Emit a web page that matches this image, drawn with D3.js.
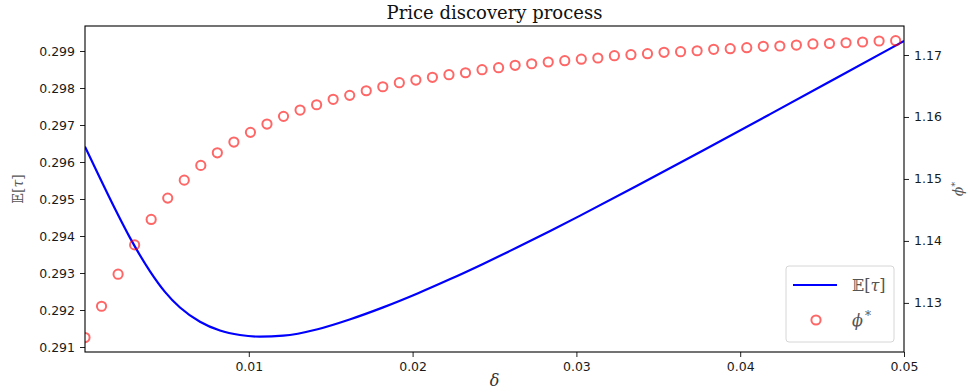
<!DOCTYPE html>
<html>
<head>
<meta charset="utf-8">
<script src="https://cdn.jsdelivr.net/npm/d3@7"></script>
<style>
body { margin: 0; background: #fff; }
text { font-family: "DejaVu Sans", sans-serif; }
</style>
</head>
<body>
<svg width="968" height="392"></svg>
<script>
// E[tau] curve
var deltaLine = [0, 0.00092, 0.00183, 0.00275, 0.00397, 0.00488, 0.0058, 0.00702, 0.00824, 0.00946,
    0.01068, 0.0121, 0.0142, 0.0162, 0.0182, 0.0203, 0.0223, 0.0243, 0.0264, 0.0284,
    0.0302, 0.0337, 0.0377, 0.0418, 0.0459, 0.05];
var tauLine = [0.296416, 0.29556, 0.294736, 0.293949, 0.293046, 0.292491, 0.292068, 0.291684, 0.291446, 0.291324,
    0.29128, 0.291305, 0.291481, 0.291751, 0.292071, 0.292447, 0.292835, 0.293245, 0.293694, 0.294136,
    0.294544, 0.295356, 0.296304, 0.297288, 0.298278, 0.29927];

// phi* markers
var deltaDots = [0, 0.00101, 0.00202, 0.00303, 0.00404, 0.00505, 0.00606, 0.00707, 0.00808, 0.00909,
    0.0101, 0.01111, 0.01212, 0.01313, 0.01414, 0.01515, 0.01616, 0.01717, 0.01818, 0.01919,
    0.0202, 0.02121, 0.02222, 0.02323, 0.02424, 0.02525, 0.02626, 0.02727, 0.02828, 0.02929,
    0.0303, 0.03131, 0.03232, 0.03333, 0.03434, 0.03535, 0.03636, 0.03737, 0.03838, 0.03939,
    0.0404, 0.04141, 0.04242, 0.04343, 0.04444, 0.04545, 0.04646, 0.04747, 0.04848, 0.04949];
var phiDots = [1.12441, 1.12946, 1.13463, 1.13936, 1.14347, 1.14691, 1.14981, 1.15219, 1.15422, 1.15595,
    1.15752, 1.15886, 1.1601, 1.16112, 1.16197, 1.16285, 1.16349, 1.16423, 1.16488, 1.16553,
    1.16596, 1.1664, 1.16682, 1.16714, 1.16763, 1.16795, 1.16834, 1.16859, 1.16887, 1.16908,
    1.16932, 1.16952, 1.16989, 1.17005, 1.17021, 1.17044, 1.17053, 1.17069, 1.17092, 1.17102,
    1.17118, 1.1714, 1.17145, 1.17161, 1.17178, 1.17186, 1.17198, 1.1721, 1.17226, 1.17231];

var xTicks = [0.01, 0.02, 0.03, 0.04, 0.05];
var leftTicks = [0.291, 0.292, 0.293, 0.294, 0.295, 0.296, 0.297, 0.298, 0.299];
var rightTicks = [1.13, 1.14, 1.15, 1.16, 1.17];

var marge = { top: 26, bottom: 40, left: 85, right: 64 };
var svg = d3.select("svg");
var width = +svg.attr("width") - marge.left - marge.right;
var height = +svg.attr("height") - marge.top - marge.bottom;
var g = svg.append("g").attr("transform", "translate(" + marge.left + "," + marge.top + ")");

var x = d3.scaleLinear().domain([0, 0.05]).range([0, width]);
var yL = d3.scaleLinear().domain([0.290865, 0.299676]).range([height, 0]);
var yR = d3.scaleLinear().domain([1.12208, 1.17468]).range([height, 0]);

svg.append("defs").append("clipPath").attr("id", "clip")
    .append("rect").attr("width", width).attr("height", height);

// axes
function styleAxis(sel) {
    sel.select(".domain").remove();
    sel.selectAll("text").style("font-size", "12.5px").attr("fill", "#1a1a1a");
    sel.selectAll("line").attr("stroke", "#222");
}

g.append("g")
    .attr("transform", "translate(0," + height + ")")
    .call(d3.axisBottom(x).tickValues(xTicks).tickSize(5).tickPadding(5).tickFormat(d3.format(".2f")))
    .call(styleAxis);

g.append("g")
    .call(d3.axisLeft(yL).tickValues(leftTicks).tickSize(5).tickPadding(5).tickFormat(d3.format(".3f")))
    .call(styleAxis);

g.append("g")
    .attr("transform", "translate(" + width + ",0)")
    .call(d3.axisRight(yR).tickValues(rightTicks).tickSize(5).tickPadding(5).tickFormat(d3.format(".2f")))
    .call(styleAxis);

// the line
var line = d3.line()
    .x(function (d, i) { return x(deltaLine[i]); })
    .y(function (d) { return yL(d); })
    .curve(d3.curveMonotoneX);

var plot = g.append("g").attr("clip-path", "url(#clip)");

plot.append("path")
    .datum(tauLine)
    .attr("d", line)
    .attr("fill", "none")
    .attr("stroke", "#0000ff")
    .attr("stroke-width", 2.2);

plot.selectAll("circle")
    .data(phiDots)
    .enter().append("circle")
    .attr("cx", function (d, i) { return x(deltaDots[i]); })
    .attr("cy", function (d) { return yR(d); })
    .attr("r", 4.6)
    .attr("fill", "none")
    .attr("stroke", "#ff0000")
    .attr("stroke-opacity", 0.6)
    .attr("stroke-width", 2);

// frame
g.append("rect")
    .attr("width", width).attr("height", height)
    .attr("fill", "none").attr("stroke", "#000").attr("stroke-width", 1.1);

// title and axis labels
svg.append("text")
    .attr("x", marge.left + width / 2).attr("y", 19)
    .attr("text-anchor", "middle")
    .style("font-family", "DejaVu Serif")
    .style("font-size", "18px")
    .attr("fill", "#111")
    .text("Price discovery process");

svg.append("text")
    .attr("x", marge.left + width / 2).attr("y", 386)
    .attr("text-anchor", "middle")
    .style("font-family", "DejaVu Serif")
    .style("font-style", "italic")
    .style("font-size", "16px")
    .attr("fill", "#333")
    .text("δ");

svg.append("text")
    .attr("transform", "translate(23," + (marge.top + height / 2) + ") rotate(-90)")
    .attr("text-anchor", "middle")
    .style("font-family", "DejaVu Serif")
    .style("font-size", "14px")
    .attr("fill", "#555")
    .html("𝔼[<tspan font-style='italic'>τ</tspan>]");

svg.append("text")
    .attr("transform", "translate(963," + (marge.top + height / 2) + ") rotate(-90)")
    .attr("text-anchor", "middle")
    .style("font-family", "DejaVu Serif")
    .style("font-size", "14px")
    .attr("fill", "#555")
    .html("<tspan font-style='italic'>ϕ</tspan><tspan dy='-5' font-size='10px'>*</tspan>");

// legend
var lg = svg.append("g").attr("transform", "translate(786,266)");
lg.append("rect")
    .attr("width", 108).attr("height", 76).attr("rx", 3)
    .attr("fill", "#fff").attr("fill-opacity", 0.8)
    .attr("stroke", "#d6d6d6");
lg.append("line")
    .attr("x1", 7).attr("x2", 51).attr("y1", 19).attr("y2", 19)
    .attr("stroke", "#0000ff").attr("stroke-width", 2.2);
lg.append("text")
    .attr("x", 66).attr("y", 25)
    .style("font-family", "DejaVu Serif")
    .style("font-size", "16px")
    .attr("fill", "#555")
    .html("𝔼[<tspan font-style='italic'>τ</tspan>]");
lg.append("circle")
    .attr("cx", 30).attr("cy", 54).attr("r", 4.6)
    .attr("fill", "none").attr("stroke", "#ff0000")
    .attr("stroke-opacity", 0.6).attr("stroke-width", 2);
lg.append("text")
    .attr("x", 66).attr("y", 60)
    .style("font-family", "DejaVu Serif")
    .style("font-size", "16px")
    .attr("fill", "#555")
    .html("<tspan font-style='italic'>ϕ</tspan><tspan dx='2' dy='-6' font-size='12px'>*</tspan>");
</script>
</body>
</html>
